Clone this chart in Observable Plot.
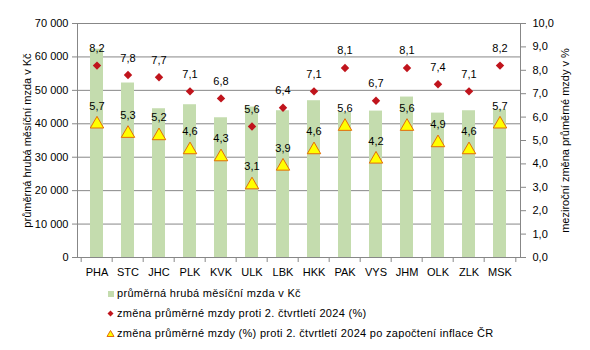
<!DOCTYPE html>
<html><head><meta charset="utf-8">
<script src="https://cdn.jsdelivr.net/npm/d3@7"></script>
<script src="https://cdn.jsdelivr.net/npm/@observablehq/plot@0.6"></script>
<style>
body{margin:0;background:#fff;font-family:"Liberation Sans",Arial,sans-serif;color:#000;}
#wrap{position:relative;width:590px;height:350px;}
#legend{position:absolute;left:106px;top:283px;font-size:11px;letter-spacing:0.3px;}
#legend .row{height:20px;display:flex;align-items:center;}
#legend svg{margin-right:2px;}
</style></head><body><div id="wrap"><div id="chart"></div>
<div id="legend">
<div class="row"><svg width="9" height="9"><rect x="2" y="2" width="6" height="6" fill="#c4dcae"/></svg>průměrná hrubá měsíční mzda v Kč</div>
<div class="row"><svg width="9" height="9"><path d="M4.5 1.5 L7.5 4.5 L4.5 7.5 L1.5 4.5Z" fill="#c0141c"/></svg>změna průměrné mzdy proti 2. čtvrtletí 2024 (%)</div>
<div class="row"><svg width="9" height="9"><path d="M4.5 1.5 L8 7.5 L1 7.5Z" fill="#ffff00" stroke="#e36c09" stroke-width="1"/></svg>změna průměrné mzdy (%) proti 2. čtvrtletí 2024 po započtení inflace ČR</div>
</div></div>
<script>
const regions = ["PHA","STC","JHC","PLK","KVK","ULK","LBK","HKK","PAK","VYS","JHM","OLK","ZLK","MSK"];
const wages = [62300,52200,44500,45700,41800,45000,43900,46900,43500,43800,48000,43200,43900,44200];
const nominal = [8.2,7.8,7.7,7.1,6.8,5.6,6.4,7.1,8.1,6.7,8.1,7.4,7.1,8.2];
const real = [5.7,5.3,5.2,4.6,4.3,3.1,3.9,4.6,5.6,4.2,5.6,4.9,4.6,5.7];
const leftTicks = [0,10000,20000,30000,40000,50000,60000,70000];
const rightTicks = [0,1,2,3,4,5,6,7,8,9,10];
const leftTitle = "průměrná hrubá měsíční mzda v Kč";
const rightTitle = "meziroční změna průměrné mzdy v %";
const ratio = 7000; // 1 % on the right axis = 7 000 Kč on the left axis

const data = regions.map((r,i)=>({region:r, wage:wages[i], nominal:nominal[i], real:real[i]}));
const fmtK = d => d3.format(",")(d).replace(/,/g," ");
const fmtP = d => d.toFixed(1).replace(".",",");

const W=590,H=282,mL=77,mR=70,mT=23,mB=25;
const step = (W-mL-mR)/regions.length;
const grey = "#878787";

const chart = Plot.plot({
  width:W, height:H, marginLeft:mL, marginRight:mR, marginTop:mT, marginBottom:mB,
  style:{fontFamily:"'Liberation Sans',Arial,sans-serif", fontSize:"11px", color:"#000", background:"#fff"},
  x:{domain:regions, paddingInner:0.58, paddingOuter:0.29, axis:null},
  y:{domain:[0,70000], axis:null},
  marks:[
    Plot.gridY(leftTicks, {stroke:grey, strokeOpacity:1, strokeWidth:1}),
    Plot.barY(data, {x:"region", y:"wage", fill:"#c4dcae"}),
    Plot.frame({stroke:grey}),
    Plot.axisX({tickSize:0, tickPadding:11, fill:"#000", label:null}),
    Plot.ruleX(regions, {x:d=>d, y1:0, y2:-1500, dx:-step/2, stroke:grey}),
    Plot.ruleX(regions.slice(-1), {x:d=>d, y1:0, y2:-1500, dx:step/2, stroke:grey}),
    Plot.axisY(leftTicks, {anchor:"left", tickSize:5, tickPadding:4, tickFormat:fmtK, label:null, stroke:grey, fill:"#000"}),
    Plot.axisY(rightTicks.map(v=>v*ratio), {anchor:"right", tickSize:5, tickPadding:7, tickFormat:d=>fmtP(d/ratio), label:null, stroke:grey, fill:"#000"}),
    Plot.text([leftTitle], {text:d=>d, frameAnchor:"left", textAnchor:"middle", dx:-50, rotate:-90, fontSize:11, fill:"#000"}),
    Plot.text([rightTitle], {text:d=>d, frameAnchor:"right", textAnchor:"middle", dx:45, rotate:-90, fontSize:11, fill:"#000"}),
    Plot.dot(data, {x:"region", y:d=>d.nominal*ratio, symbol:"diamond2", r:3.8, fill:"#c0141c", stroke:null}),
    Plot.dot(data, {x:"region", y:d=>d.real*ratio, symbol:"triangle", r:5, fill:"#ffff00", stroke:"#e36c09", strokeWidth:1}),
    Plot.text(data, {x:"region", y:d=>d.nominal*ratio, text:d=>fmtP(d.nominal), dy:-17, fontSize:11, fill:"#000"}),
    Plot.text(data, {x:"region", y:d=>d.real*ratio, text:d=>fmtP(d.real), dy:-18, fontSize:11, fill:"#000"})
  ]
});
document.getElementById("chart").appendChild(chart);
</script></body></html>
